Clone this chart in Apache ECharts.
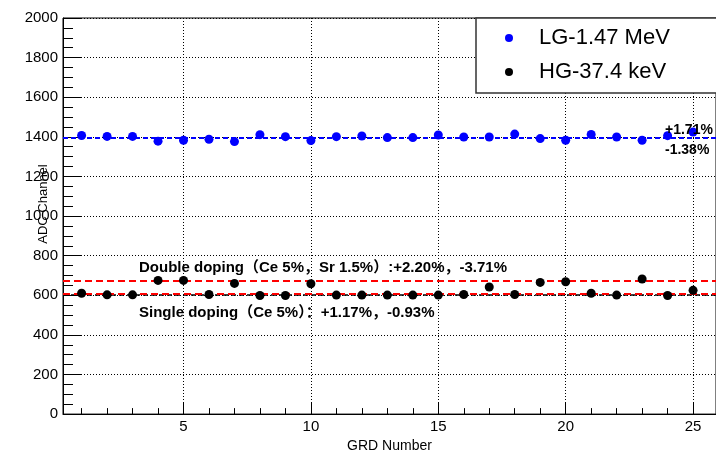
<!DOCTYPE html>
<html>
<head>
<meta charset="utf-8">
<script src="https://cdn.jsdelivr.net/npm/echarts@6/dist/echarts.min.js"></script>
<style>
  html, body { margin: 0; padding: 0; background: #fff; overflow: hidden; }
  #main { width: 716px; height: 458px; }
</style>
</head>
<body>
<div id="main"></div>
<script>
const grd = [1, 2, 3, 4, 5, 6, 7, 8, 9, 10, 11, 12, 13, 14, 15, 16, 17, 18, 19, 20, 21, 22, 23, 24, 25]
const lgValues = [1407, 1402, 1402, 1378, 1383, 1388, 1376, 1411, 1401, 1381, 1401, 1404, 1396, 1396, 1409, 1399, 1399, 1414, 1391, 1383, 1412, 1399, 1383, 1406, 1424]
const hgValues = [610, 602, 602, 675, 675, 604, 660, 599, 599, 658, 601, 601, 601, 601, 601, 604, 642, 604, 665, 668, 610, 601, 682, 599, 625]
const lgMean = [1397]
const hgMean = [604]
const dopingLines = [671, 606]
const xMajor = [5, 10, 15, 20, 25]
const seriesNames = ['LG-1.47 MeV', 'HG-37.4 keV']

const font = 'Liberation Sans, Arial, Noto Sans CJK SC, sans-serif'

const chart = echarts.init(document.getElementById('main'), null, { renderer: 'canvas' })

const toPairs = (vals) => vals.map((v, i) => [grd[i], v])

const option = {
  animation: false,
  grid: {
    left: 63,
    right: -3,
    top: 18,
    bottom: 36,
    show: true,
    borderColor: '#000',
    borderWidth: 1,
  },
  legend: {
    orient: 'vertical',
    left: 476,
    top: 18,
    padding: [9, 10, 10, 29],
    itemGap: 12,
    itemWidth: 8,
    itemHeight: 8,
    icon: 'circle',
    z: 6,
    textStyle: {
      fontFamily: font,
      fontSize: 22,
      color: '#000',
      padding: [0, 0, 0, 21],
    },
    data: seriesNames,
  },
  xAxis: [
    {
      type: 'value',
      min: 0.27,
      max: 25.9,
      name: 'GRD Number',
      nameLocation: 'middle',
      nameGap: 18,
      nameTextStyle: { fontFamily: font, fontSize: 14, color: '#000' },
      axisLine: { show: true, onZero: false, lineStyle: { color: '#000', width: 1 } },
      axisTick: { show: true, inside: true, length: 12, customValues: xMajor, lineStyle: { color: '#000' } },
      axisLabel: { show: true, customValues: xMajor, margin: 5, fontFamily: font, fontSize: 15, color: '#000' },
      splitLine: { show: true, lineStyle: { color: '#000', type: [1, 2], width: 1 } },
    },
    {
      type: 'value',
      min: 0.27,
      max: 25.9,
      position: 'bottom',
      axisLine: { show: false },
      axisTick: { show: true, inside: true, length: 6, customValues: grd, lineStyle: { color: '#000' } },
      axisLabel: { show: false },
      splitLine: { show: false },
    },
  ],
  yAxis: {
    type: 'value',
    min: 0,
    max: 2000,
    interval: 200,
    axisLine: { show: true, lineStyle: { color: '#000', width: 1 } },
    axisTick: { show: true, inside: true, length: 19, lineStyle: { color: '#000' } },
    minorTick: { show: true, splitNumber: 4, length: 10, lineStyle: { color: '#000' } },
    axisLabel: { margin: 5, fontFamily: font, fontSize: 15, color: '#000', formatter: (v) => String(v) },
    splitLine: { show: true, lineStyle: { color: '#000', type: [1, 2], width: 1 } },
  },
  graphic: [
    {
      // legend frame, runs past the right edge like the original
      type: 'rect',
      z: 5,
      shape: { x: 476, y: 18, width: 400, height: 75 },
      style: { fill: '#fff', stroke: '#333', lineWidth: 1.5 },
    },
    {
      type: 'text',
      x: 43,
      y: 204,
      rotation: Math.PI / 2,
      style: {
        text: 'ADC Channel',
        font: '13px ' + font,
        fill: '#000',
        align: 'center',
        verticalAlign: 'middle',
      },
    },
    {
      type: 'text',
      x: 665,
      y: 130,
      z: 10,
      style: { text: '+1.71%', font: 'bold 14px ' + font, fill: '#000', verticalAlign: 'middle' },
    },
    {
      type: 'text',
      x: 665,
      y: 150,
      z: 10,
      style: { text: '-1.38%', font: 'bold 14px ' + font, fill: '#000', verticalAlign: 'middle' },
    },
    {
      type: 'text',
      x: 139,
      y: 268,
      z: 10,
      style: {
        text: 'Double doping（Ce 5%，Sr 1.5%）:+2.20%，-3.71%',
        font: 'bold 15px ' + font,
        fill: '#000',
        verticalAlign: 'middle',
      },
    },
    {
      type: 'text',
      x: 139,
      y: 313,
      z: 10,
      style: {
        text: 'Single doping（Ce 5%）：+1.17%，-0.93%',
        font: 'bold 15px ' + font,
        fill: '#000',
        verticalAlign: 'middle',
      },
    },
  ],
  series: [
    {
      name: seriesNames[0],
      type: 'scatter',
      symbol: 'circle',
      symbolSize: 9,
      itemStyle: { color: '#0000ff', opacity: 1 },
      data: toPairs(lgValues),
      z: 5,
      markLine: {
        silent: true,
        symbol: 'none',
        label: { show: false },
        lineStyle: { color: '#0000ff', type: [5, 3], width: 2 },
        data: lgMean.map((v) => ({ yAxis: v })),
      },
    },
    {
      name: seriesNames[1],
      type: 'scatter',
      symbol: 'circle',
      symbolSize: 9,
      itemStyle: { color: '#000', opacity: 1 },
      data: toPairs(hgValues),
      z: 5,
      markLine: {
        silent: true,
        symbol: 'none',
        label: { show: false },
        lineStyle: { color: '#000', type: [5, 3], width: 1.5 },
        data: hgMean.map((v) => ({ yAxis: v })),
      },
    },
    {
      name: 'doping',
      type: 'scatter',
      data: [],
      markLine: {
        silent: true,
        symbol: 'none',
        label: { show: false },
        lineStyle: { color: '#ff0000', type: [7, 4], width: 2 },
        data: dopingLines.map((v) => ({ yAxis: v })),
      },
    },
  ],
}

option && chart.setOption(option)
</script>
</body>
</html>
